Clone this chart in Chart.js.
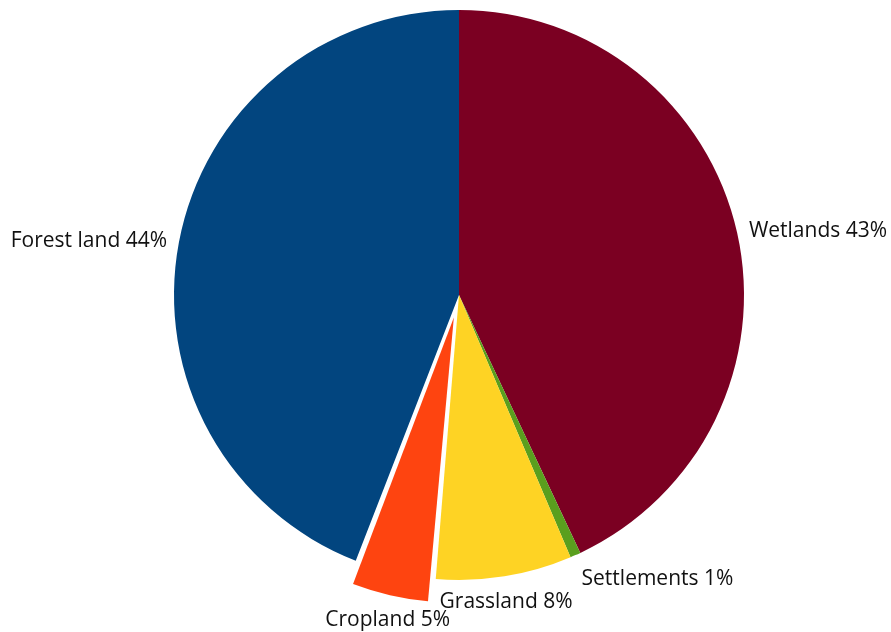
<!DOCTYPE html>
<html>
<head>
<meta charset="utf-8">
<script src="https://cdn.jsdelivr.net/npm/chart.js@4/dist/chart.umd.min.js"></script>
<style>
  html, body { margin: 0; padding: 0; background: #fff; }
  #wrap { width: 891px; height: 632px; }
</style>
</head>
<body>
<div id="wrap"><canvas id="landChart" width="891" height="632"></canvas></div>
<script>
const categories = ['Wetlands', 'Settlements', 'Grassland', 'Cropland', 'Forest land'];
const shares = [43.0, 0.6, 7.7, 4.6, 44.1];

const sliceColors = ['#7b0022', '#5a9f1e', '#fed324', '#fe4410', '#02457f'];
const sliceOffsets = [0, 0, 0, 92, 0];
const pieRadius = 285;

const total = shares.reduce((a, b) => a + b, 0);

// v4 grows an offset slice's radius a bit, keep it at the pie radius like the original
const keepRadius = {
    id: 'keepRadius',
    beforeDatasetsDraw(chart) {
        chart.getDatasetMeta(0).data.forEach(arc => {
            const off = (arc.options.offset || 0) / 4;
            const fix = 1 - Math.sin(Math.min(Math.PI, arc.circumference));
            arc.outerRadius = pieRadius - off * fix;
        });
    }
};

const sliceLabels = {
    id: 'sliceLabels',
    afterDatasetsDraw(chart) {
        const ctx = chart.ctx;
        ctx.save();
        ctx.font = '21px "Open Sans", sans-serif';
        ctx.fillStyle = '#111';
        ctx.textBaseline = 'middle';
        chart.getDatasetMeta(0).data.forEach((arc, i) => {
            const mid = (arc.startAngle + arc.endAngle) / 2;
            const off = (arc.options.offset || 0) / 4;
            const cx = arc.x + Math.cos(mid) * off;
            const cy = arc.y + Math.sin(mid) * off;
            const r = pieRadius + 10;
            const dx = Math.cos(mid);
            const dy = Math.sin(mid);
            let x = cx + dx * r;
            const y = cy + dy * r + 16 * Math.max(0, dy);
            if (dx > 0.3) { ctx.textAlign = 'left'; x += 2; }
            else if (dx < -0.3) { ctx.textAlign = 'right'; x -= 2; }
            else ctx.textAlign = 'center';
            const pct = Math.round(shares[i] / total * 100);
            ctx.fillText(categories[i] + ' ' + pct + '%', x, y);
        });
        ctx.restore();
    }
};

new Chart(document.getElementById('landChart'), {
    type: 'pie',
    data: {
        labels: categories,
        datasets: [{
            data: shares,
            backgroundColor: sliceColors,
            borderWidth: 0,
            offset: sliceOffsets,
            hoverOffset: 0
        }]
    },
    options: {
        responsive: false,
        animation: false,
        events: [],
        radius: pieRadius,
        layout: { padding: { left: 27, right: 0, top: 0, bottom: 42 } },
        plugins: {
            legend: { display: false },
            tooltip: { enabled: false }
        }
    },
    plugins: [keepRadius, sliceLabels]
});
</script>
</body>
</html>
